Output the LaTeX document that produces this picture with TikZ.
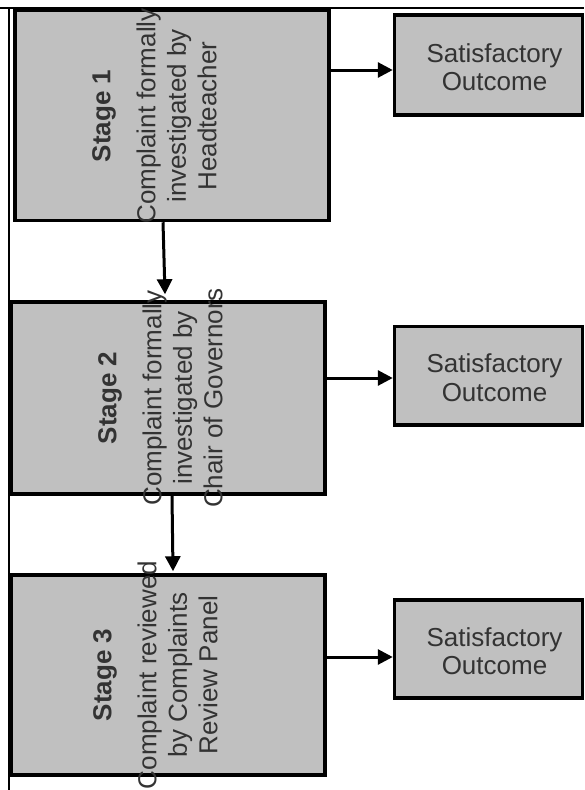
\documentclass[tikz,border=0pt]{standalone}
\usepackage{fontspec}
\setmainfont{Liberation Sans}
\usetikzlibrary{arrows.meta, positioning}
\definecolor{boxgrey}{HTML}{C0C0C0}
\definecolor{textgrey}{HTML}{333333}

\begin{document}
\begin{tikzpicture}[
        x=1pt, y=-1pt,
        stagebox/.style={draw, line width=3.5pt, fill=boxgrey, inner sep=0pt, minimum width=314pt},
        outbox/.style={draw, line width=3.5pt, fill=boxgrey, inner sep=0pt, minimum width=188pt},
        stagetext/.style={rotate=90, anchor=north, align=center, inner sep=0pt, text=textgrey, font=\fontsize{26}{30.5}\selectfont},
        outtext/.style={align=center, inner sep=0pt, text=textgrey, font=\fontsize{26}{28.5}\selectfont},
        arr/.style={line width=3pt, -{Triangle[length=15pt, width=15pt]}},
        rule/.style={line width=1.8pt}
    ]

    \useasboundingbox (0,0) rectangle (584,790);

    % Table border
    \draw[rule] (0,8) -- (584,8);
    \draw[rule] (9,8) -- (9,790);

    % Stages
    \node[stagebox, minimum height=210.5pt] (s1) at (171.75,115.25) {};
    \node[stagebox, minimum height=192pt] (s2) at (167.75,398) {};
    \node[stagebox, minimum height=200pt] (s3) at (167.75,675) {};

    \node[stagetext] (s1t) at (92,116) {\textbf{Stage 1}\\[14.5pt]Complaint formally\\investigated by\\Headteacher};
    \node[stagetext] (s2t) at (98,398) {\textbf{Stage 2}\\[14.5pt]Complaint formally\\investigated by\\Chair of Governors};
    \node[stagetext] (s3t) at (93,675) {\textbf{Stage 3}\\[14.5pt]Complaint reviewed\\by Complaints\\Review Panel};

    % Outcomes
    \node[outbox, minimum height=100pt] (o1) at (488.5,65) {};
    \node[outbox, minimum height=98.5pt] (o2) at (488.5,375.75) {};
    \node[outbox, minimum height=98pt] (o3) at (488.5,649) {};

    \node[outtext] (o1t) at ([xshift=6pt, yshift=-2pt]o1.center) {Satisfactory\\Outcome};
    \node[outtext] (o2t) at ([xshift=6pt, yshift=-2pt]o2.center) {Satisfactory\\Outcome};
    \node[outtext] (o3t) at ([xshift=6pt, yshift=-2pt]o3.center) {Satisfactory\\Outcome};

    % Stage to outcome
    \coordinate (a1) at ([yshift=-5pt]o1.west);
    \coordinate (a2) at ([yshift=-2.25pt]o2.west);
    \coordinate (a3) at ([yshift=-8pt]o3.west);
    \draw[arr] (s1.east |- a1) -- (a1);
    \draw[arr] (s2.east |- a2) -- (a2);
    \draw[arr] (s3.east |- a3) -- (a3);

    % Stage to stage
    \draw[arr] ([xshift=-8.75pt]s1.south) -- ([xshift=-2.75pt, yshift=6pt]s2.north);
    \draw[arr] ([xshift=4.25pt]s2.south) -- ([xshift=5.25pt, yshift=2pt]s3.north);

\end{tikzpicture}
\end{document}
